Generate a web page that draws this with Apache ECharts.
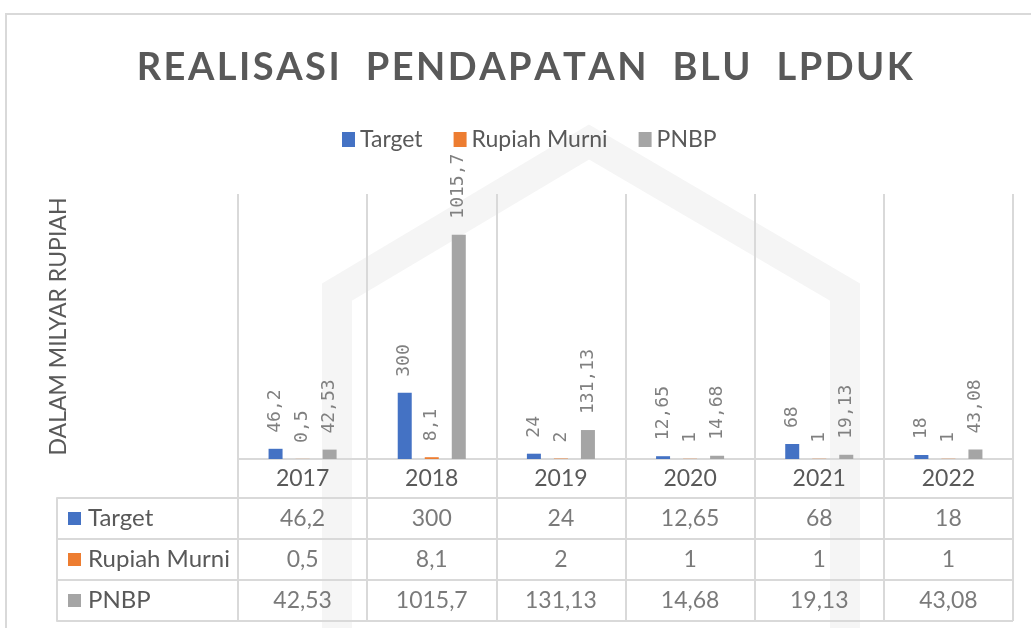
<!DOCTYPE html>
<html>
<head>
<meta charset="utf-8">
<script src="https://cdn.jsdelivr.net/npm/echarts@6/dist/echarts.min.js"></script>
<style>
  html, body { margin: 0; padding: 0; background: #fff; }
  #main { width: 1031px; height: 628px; }
</style>
</head>
<body>
<div id="main"></div>
<script>
var years = ['2017', '2018', '2019', '2020', '2021', '2022'];
var target = [46.2, 300, 24, 12.65, 68, 18];
var rupiahMurni = [0.5, 8.1, 2, 1, 1, 1];
var pnbp = [42.53, 1015.7, 131.13, 14.68, 19.13, 43.08];
var rowNames = ['Target', 'Rupiah Murni', 'PNBP'];
var colors = ['#4472C4', '#ED7D31', '#A5A5A5'];
var titleText = 'REALISASI  PENDAPATAN  BLU  LPDUK';

var fmt = function (v) { return String(v).replace('.', ','); };
var lineColor = '#d9d9d9';
var textColor = '#595959';
var font = 'Lato';

// huruf judul diberi jarak (letter spacing)
var spaced = function (s, cls) {
    return s.split('').map(function (c) { return '{' + cls + '|' + c + '}'; }).join('');
};

// isi tabel data dibawah grafik
var rows = [target, rupiahMurni, pnbp];
var cells = [];
rows.forEach(function (r, ri) {
    r.forEach(function (v, ci) {
        cells.push([ci, ri, fmt(v)]);
    });
});

var barLabel = {
    show: true,
    position: 'top',
    rotate: 90,
    align: 'left',
    verticalAlign: 'middle',
    distance: 16,
    color: '#808080',
    fontFamily: 'DejaVu Sans Mono',
    fontSize: 18,
    formatter: function (p) { return fmt(p.value); }
};

var myChart = echarts.init(document.getElementById('main'));
var option = {
    backgroundColor: '#fff',
    textStyle: { fontFamily: font },
    title: {
        text: spaced(titleText, 'c'),
        left: 521,
        textAlign: 'center',
        top: 44,
        textStyle: {
            rich: {
                c: { fontFamily: font, fontSize: 38, fontWeight: 'bold', color: textColor, padding: [0, 2.5, 0, 0] }
            }
        }
    },
    legend: {
        top: 123,
        left: 337,
        itemWidth: 13,
        itemHeight: 15,
        itemGap: 31,
        icon: 'rect',
        textStyle: { fontFamily: font, fontSize: 23, color: textColor },
        data: rowNames
    },
    graphic: [{
        // watermark samar di belakang grafik
        type: 'polyline',
        silent: true,
        z: -10,
        shape: { points: [[337, 640], [337, 292], [589, 142], [845, 292], [845, 640]] },
        style: { fill: 'none', stroke: '#f5f5f5', lineWidth: 30 }
    }, {
        type: 'rect',
        silent: true,
        shape: { x: 6, y: 14, width: 1100, height: 700 },
        style: { fill: 'none', stroke: lineColor, lineWidth: 2 }
    }],
    grid: [
        { left: 238, right: 18, top: 194, bottom: 169 },
        { left: 238, right: 18, top: 498, bottom: 7 }
    ],
    xAxis: [{
        gridIndex: 0,
        type: 'category',
        data: years,
        axisLine: { lineStyle: { color: lineColor, width: 2 } },
        axisTick: { show: true, length: 39, lineStyle: { color: lineColor, width: 2 } },
        axisLabel: { interval: 0, margin: 8, fontSize: 23, lineHeight: 23, color: textColor, fontFamily: font },
        splitLine: { show: true, interval: 0, lineStyle: { color: lineColor, width: 2 } }
    }, {
        gridIndex: 1,
        type: 'category',
        data: years,
        axisLine: { show: false },
        axisTick: { show: false },
        axisLabel: { show: false },
        splitLine: { show: true, interval: 0, lineStyle: { color: lineColor, width: 2 } }
    }],
    yAxis: [{
        gridIndex: 0,
        type: 'value',
        min: 0,
        max: 1200,
        name: 'DALAM MILYAR RUPIAH',
        nameLocation: 'middle',
        nameGap: 168,
        nameTextStyle: { fontFamily: font, fontSize: 23, color: textColor },
        axisLine: { show: false },
        axisTick: { show: false },
        axisLabel: { show: false },
        splitLine: { show: false }
    }, {
        gridIndex: 1,
        type: 'category',
        inverse: true,
        data: rowNames,
        axisLine: { show: false },
        axisTick: { show: true, interval: 0, length: 181, lineStyle: { color: lineColor, width: 2 } },
        axisLabel: {
            interval: 0,
            align: 'left',
            margin: 170,
            formatter: function (v, i) { return '{k' + i + '|}{t|' + v + '}'; },
            rich: {
                k0: { width: 13, height: 13, backgroundColor: colors[0] },
                k1: { width: 13, height: 13, backgroundColor: colors[1] },
                k2: { width: 13, height: 13, backgroundColor: colors[2] },
                t: { fontSize: 24, color: textColor, fontFamily: font, padding: [0, 0, 0, 7] }
            }
        },
        splitLine: { show: true, interval: 0, lineStyle: { color: lineColor, width: 2 } }
    }, {
        gridIndex: 1,
        type: 'category',
        inverse: true,
        data: rowNames,
        position: 'left',
        offset: 181,
        axisLine: { show: true, lineStyle: { color: lineColor, width: 2 } },
        axisTick: { show: false },
        axisLabel: { show: false },
        splitLine: { show: false }
    }],
    series: [{
        name: 'Target',
        type: 'bar',
        barWidth: 14,
        barGap: '93%',
        itemStyle: { color: colors[0] },
        label: barLabel,
        data: target
    }, {
        name: 'Rupiah Murni',
        type: 'bar',
        barWidth: 14,
        barGap: '93%',
        itemStyle: { color: colors[1] },
        label: barLabel,
        data: rupiahMurni
    }, {
        name: 'PNBP',
        type: 'bar',
        barWidth: 14,
        barGap: '93%',
        itemStyle: { color: colors[2] },
        label: barLabel,
        data: pnbp
    }, {
        name: 'tabel',
        type: 'scatter',
        xAxisIndex: 1,
        yAxisIndex: 1,
        symbolSize: 0,
        silent: true,
        label: {
            show: true,
            position: 'inside',
            fontSize: 23,
            color: textColor,
            fontFamily: font,
            formatter: function (p) { return p.value[2]; }
        },
        data: cells
    }]
};

option && myChart.setOption(option);
</script>
</body>
</html>
